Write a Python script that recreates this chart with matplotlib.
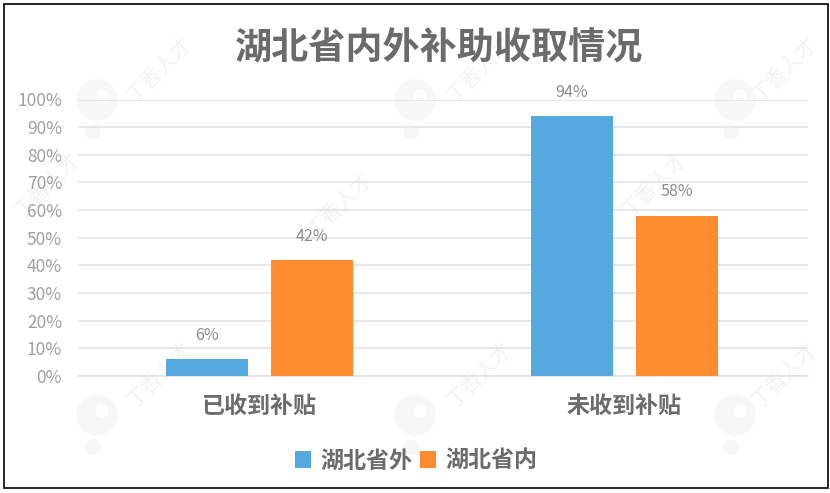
import numpy as np
import matplotlib.pyplot as plt
from matplotlib.patches import Rectangle
from matplotlib.ticker import PercentFormatter

plt.rcParams['font.family'] = ['Noto Sans CJK SC', 'DejaVu Sans']

categories = ["已收到补贴", "未收到补贴"]
outside_hubei = [6, 94]
inside_hubei = [42, 58]
series_names = ["湖北省外", "湖北省内"]

BLUE = "#56A8E0"
ORANGE = "#FF8C2E"
TEXT = "#A0A0A0"
DARK = "#6B6B6B"
GRID = "#E3E3E3"
MARK = "#F7F7F7"

W, H = 830, 493
fig = plt.figure(figsize=(W / 100, H / 100), dpi=100)
fig.patch.set_facecolor("white")

# chart frame
fig.add_artist(Rectangle((3.5 / W, 1 - 488 / H), 824 / W, 484.5 / H, transform=fig.transFigure,
                         fill=False, edgecolor="black", linewidth=1.2))

# faint watermark pins and text, behind the axes
for px, py in [(97, 100), (415, 100), (735, 100), (97, 415), (415, 415), (735, 415)]:
    for cx, cy, r, col in [(px, py, 20, MARK), (px + 5, py - 4, 6, "white"), (px - 4, py + 32, 7, MARK)]:
        c = plt.Circle((cx, H - cy), r, color=col, zorder=-1, transform=None)
        fig.add_artist(c)
for px, py in [(160, 70), (480, 70), (785, 70), (340, 205), (655, 185), (160, 375), (480, 375), (785, 375), (48, 185)]:
    fig.text(px / W, 1 - py / H, "丁香人才", rotation=45, fontsize=15, color="#F3F3F3",
             ha="center", va="center", zorder=-1)

ax = fig.add_axes([78 / W, 1 - 376 / H, 730 / W, 276.5 / H])
ax.patch.set_alpha(0)

x = np.arange(len(categories))
bar_w = 0.225
off = 0.144
bars_out = ax.bar(x - off, outside_hubei, bar_w, color=BLUE, label=series_names[0], zorder=3)
bars_in = ax.bar(x + off, inside_hubei, bar_w, color=ORANGE, label=series_names[1], zorder=3)

for bars in (bars_out, bars_in):
    ax.bar_label(bars, fmt="%d%%", padding=11, fontsize=11.5, color="#8C8C8C")

ax.set_xlim(-0.497, 1.503)
ax.set_ylim(0, 100)
ax.set_yticks(np.arange(0, 101, 10))
ax.yaxis.set_major_formatter(PercentFormatter(100))
ax.set_xticks(x)
ax.set_xticklabels(categories, fontsize=16.6, fontweight="bold", color=DARK)
ax.tick_params(axis="y", length=0, labelsize=12.5, labelcolor=TEXT, pad=11.5)
ax.tick_params(axis="x", length=0, pad=13.5)
ax.grid(axis="y", color=GRID, linewidth=1.2, zorder=0)
for name in ["top", "right", "left"]:
    ax.spines[name].set_visible(False)
ax.spines["bottom"].set_color(GRID)
ax.spines["bottom"].set_linewidth(1.2)
ax.set_clip_on(False)

fig.text(439 / W, 1 - 49 / H, "湖北省内外补助收取情况", fontsize=26.7, fontweight="bold",
         color=DARK, ha="center", va="center")

leg = fig.legend(loc="center", bbox_to_anchor=(416 / W, 1 - 461 / H), ncol=2, frameon=False,
                 labelcolor=DARK, handlelength=0.7, handleheight=0.7,
                 handletextpad=0.4, columnspacing=0.35,
                 prop={"weight": "bold", "size": 16.6})

fig.savefig("out.png", dpi=100)
